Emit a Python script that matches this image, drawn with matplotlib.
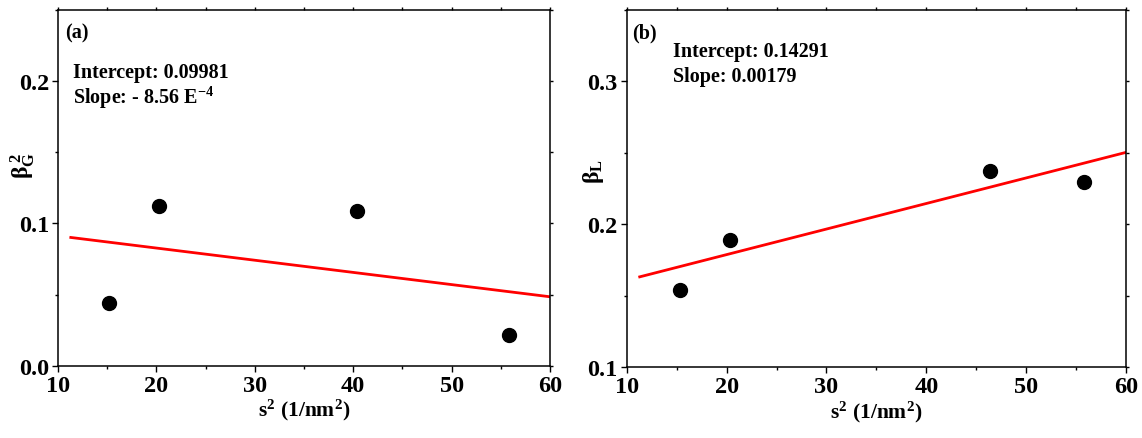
import matplotlib
matplotlib.use("Agg")
import matplotlib.pyplot as plt
from matplotlib.ticker import MultipleLocator
import numpy as np

plt.rcParams['font.family'] = ['Liberation Serif', 'DejaVu Serif']
plt.rcParams['font.weight'] = 'bold'
plt.rcParams['mathtext.fontset'] = 'custom'
plt.rcParams['mathtext.rm'] = 'Liberation Serif'
plt.rcParams['mathtext.it'] = 'Liberation Serif:italic'
plt.rcParams['mathtext.bf'] = 'Liberation Serif:bold'

# Williamson-Hall style data: s^2 vs squared Gaussian breadth and Lorentzian breadth
s2_g = [15.2, 20.3, 40.4, 55.8]
beta_g2 = [0.0442, 0.1123, 0.1088, 0.0215]
s2_l = [15.3, 20.35, 46.4, 55.8]
beta_l = [0.1541, 0.1889, 0.2375, 0.2293]

fit_g = (0.09981, -8.56e-4)   # intercept, slope
fit_l = (0.14291, 0.00179)
fit_range = [11.3, 60.0]

fig = plt.figure(figsize=(11.42, 4.39), dpi=100)
ax1 = fig.add_axes([0.0508, 0.1647, 0.4308, 0.8102])
ax2 = fig.add_axes([0.5488, 0.1617, 0.4372, 0.8132])

TICK_FS = 17.5
LABEL_FS = 15.5
YLABEL_FS = 17
NOTE_FS = 14.5


def style(ax, ylim, ymaj):
    ax.set_xlim(10, 60)
    ax.set_ylim(*ylim)
    ax.xaxis.set_major_locator(MultipleLocator(10))
    ax.xaxis.set_minor_locator(MultipleLocator(5))
    ax.yaxis.set_major_locator(MultipleLocator(ymaj))
    ax.yaxis.set_minor_locator(MultipleLocator(ymaj / 2))
    for sp in ax.spines.values():
        sp.set_linewidth(1.1)
    ax.tick_params(which='major', direction='out', length=4.5, width=1.0,
                   labelsize=TICK_FS, pad=2)
    ax.tick_params(which='minor', direction='out', length=2.5, width=1.0)
    for lab in ax.get_xticklabels() + ax.get_yticklabels():
        lab.set_fontweight('bold')
    # short marks on the top and right frame
    ax.tick_params(which='both', top=True, right=True, labeltop=False,
                   labelright=False)
    for t in ax.xaxis.get_major_ticks() + ax.xaxis.get_minor_ticks():
        t.tick2line.set_markersize(2)
    for t in ax.yaxis.get_major_ticks() + ax.yaxis.get_minor_ticks():
        t.tick2line.set_markersize(2)


def draw(ax, x, y, fit):
    xf = np.array(fit_range)
    ax.plot(xf, fit[0] + fit[1] * xf, color='#ff0000', lw=2.0, zorder=2)
    ax.plot(x, y, 'o', color='black', ms=10, zorder=3)


draw(ax1, s2_g, beta_g2, fit_g)
style(ax1, (0.0, 0.25), 0.1)
ax1.set_xlabel(r'$\mathbf{s^2\ (1/nm^2)}$', fontsize=LABEL_FS, labelpad=1)
ax1.set_ylabel(r'$\mathrm{\beta_G^{\ 2}}$', fontsize=YLABEL_FS)
ax1.yaxis.set_label_coords(-0.042, 0.565)
ax1.text(0.014, 0.965, '(a)', transform=ax1.transAxes, fontsize=NOTE_FS,
         fontweight='bold', va='top', ha='left')
ax1.text(0.031, 0.825, 'Intercept: 0.09981', transform=ax1.transAxes,
         fontsize=NOTE_FS, fontweight='bold', va='center', ha='left')
ax1.text(0.031, 0.755, r'Slope: - 8.56 E$^{\mathbf{-4}}$', transform=ax1.transAxes,
         fontsize=NOTE_FS, fontweight='bold', va='center', ha='left')

draw(ax2, s2_l, beta_l, fit_l)
style(ax2, (0.1, 0.35), 0.1)
ax2.set_xlabel(r'$\mathbf{s^2\ (1/nm^2)}$', fontsize=LABEL_FS, labelpad=1)
ax2.set_ylabel(r'$\mathrm{\beta_L}$', fontsize=YLABEL_FS)
ax2.yaxis.set_label_coords(-0.042, 0.55)
ax2.text(0.010, 0.965, '(b)', transform=ax2.transAxes, fontsize=NOTE_FS,
         fontweight='bold', va='top', ha='left')
ax2.text(0.093, 0.885, 'Intercept: 0.14291', transform=ax2.transAxes,
         fontsize=NOTE_FS, fontweight='bold', va='center', ha='left')
ax2.text(0.093, 0.815, 'Slope: 0.00179', transform=ax2.transAxes,
         fontsize=NOTE_FS, fontweight='bold', va='center', ha='left')

fig.savefig('out.png', dpi=100)
